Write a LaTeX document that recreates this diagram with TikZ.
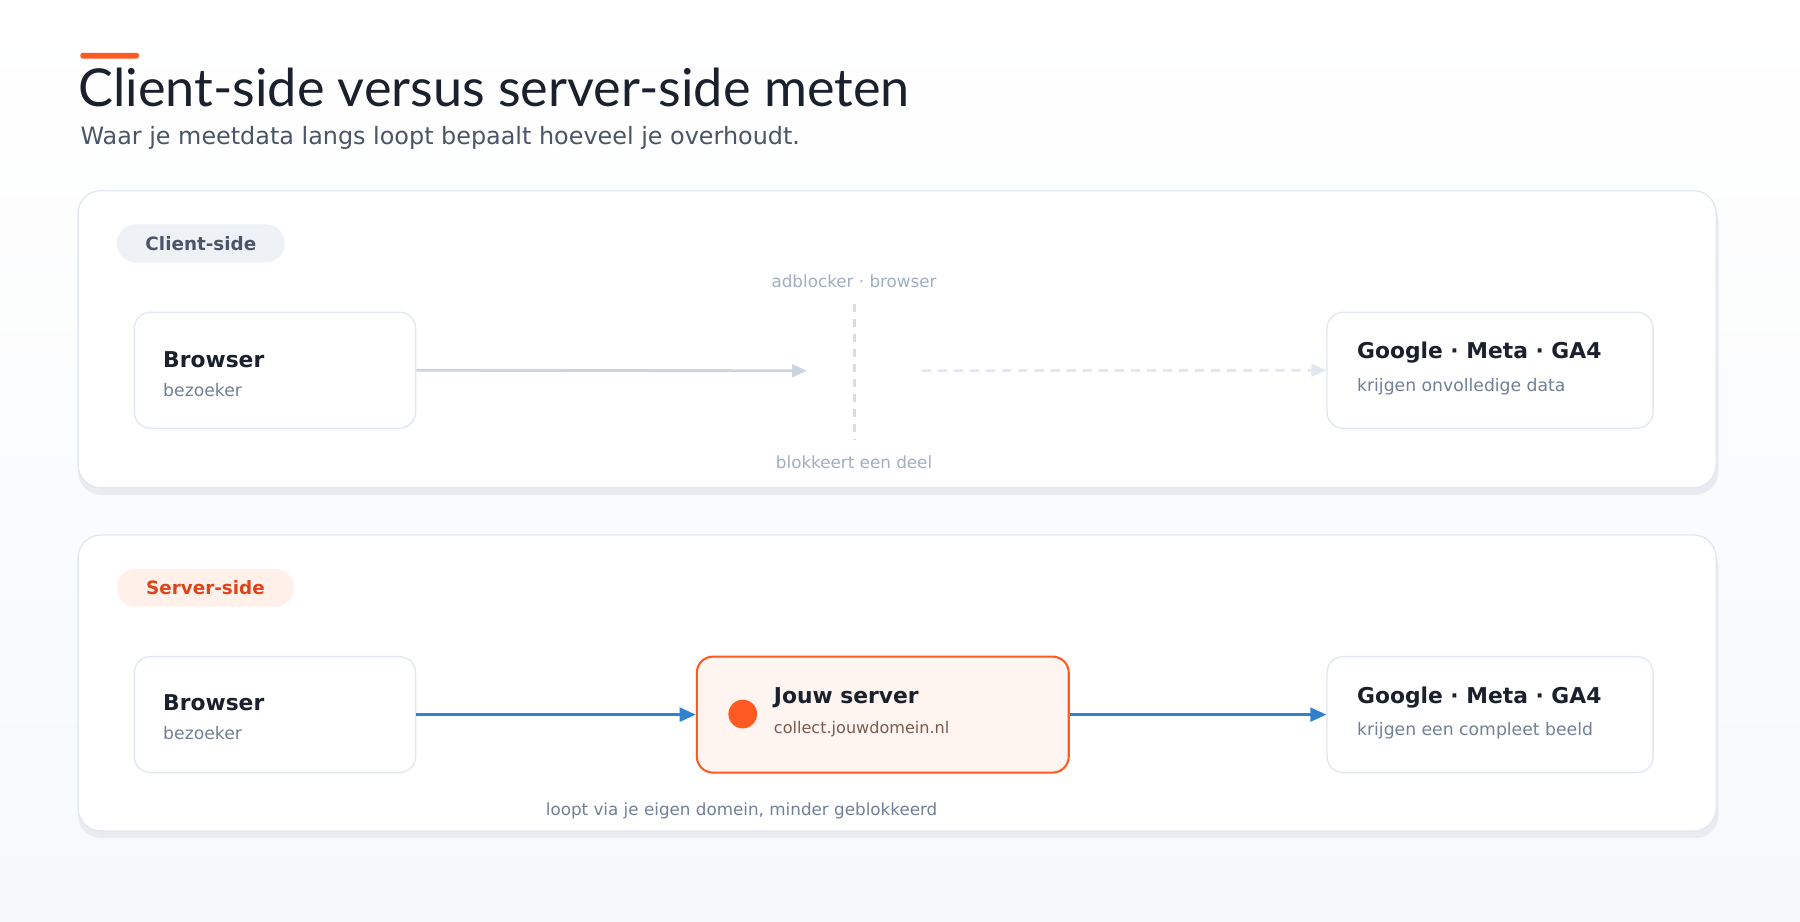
\documentclass[tikz,border=0pt]{standalone}
\usepackage{fontspec}
\setmainfont{DejaVu Sans}
\newfontfamily\titlefont{Lato}
\usetikzlibrary{arrows.meta}
\definecolor{bord}{HTML}{E2E8F0}
\definecolor{shad}{HTML}{E8ECF1}
\definecolor{ink}{HTML}{1A202C}
\definecolor{muted}{HTML}{718096}
\definecolor{faint}{HTML}{A0AEC0}
\definecolor{greyln}{HTML}{CBD5E0}
\definecolor{orng}{HTML}{FF5A24}
\definecolor{blu}{HTML}{3182CE}
\definecolor{slate}{HTML}{4A5568}
\definecolor{bgbot}{HTML}{F6F8FA}
\begin{document}
\begin{tikzpicture}[x=1pt,y=-1pt,
  card/.style={draw=bord,line width=1.2pt,fill=white,rounded corners=20pt},
  box/.style={draw=bord,line width=1.2pt,fill=white,rounded corners=14pt,minimum width=245pt,minimum height=101pt,inner sep=0pt},
  ttl/.style={anchor=base west,font=\bfseries\fontsize{19}{22}\selectfont,text=ink,inner sep=0pt},
  sub/.style={anchor=base west,font=\fontsize{15}{18}\selectfont,text=muted,inner sep=0pt},
  lbl/.style={font=\fontsize{14.6}{17}\selectfont,inner sep=0pt},
  pill/.style={rounded corners=16pt,minimum height=33pt,inner sep=0pt,font=\bfseries\fontsize{16}{19}\selectfont},
  arr/.style={line width=3pt,-{Triangle[length=14pt,width=12pt]}}]
\shade[top color=white,bottom color=bgbot] (0,0) rectangle (1568,803);
\useasboundingbox (0,0) rectangle (1568,803);
% header
\fill[orng,rounded corners=2pt] (70,46) rectangle (121,51);
\node[anchor=base west,inner sep=0pt,font=\titlefont\fontsize{45.5}{50}\selectfont,text=ink] (title) at (68,93) {Client-side versus server-side meten};
\node[anchor=base west,inner sep=0pt,font=\fontsize{20.8}{24}\selectfont,text=slate] (subt) at (70,126) {Waar je meetdata langs loopt bepaalt hoeveel je overhoudt.};
% cards
\fill[shad,rounded corners=20pt] (68,172) rectangle (1497,431);
\draw[card] (68,166) rectangle (1495,425);
\fill[shad,rounded corners=20pt] (68,472) rectangle (1497,730);
\draw[card] (68,466) rectangle (1495,724);
% pills
\node[pill,fill={rgb,255:red,238;green,242;blue,247},text=slate,minimum width=146pt] (pc) at (175,212) {Client-side};
\node[pill,fill={rgb,255:red,255;green,240;blue,234},text={rgb,255:red,217;green,70;blue,27},minimum width=154pt] (ps) at (179,512) {Server-side};
% client row
\node[box] (b1) at (239.5,322.5) {};
\node[ttl] (b1t) at (142,320) {Browser};
\node[sub] (b1s) at (142,345) {bezoeker};
\node[box,minimum width=284pt] (g1) at (1298,322.5) {};
\node[ttl] (g1t) at (1182,312) {Google · Meta · GA4};
\node[sub] (g1s) at (1182,341) {krijgen onvolledige data};
\coordinate (blk) at (703,323);
\coordinate (blkout) at (803,323);
\draw[greyln,line width=2.5pt,-{Triangle[length=13pt,width=11pt]}] (b1.east) -- (blk);
\draw[bord,line width=2.5pt,dash pattern=on 8pt off 6pt,-{Triangle[length=13pt,width=11pt]}] (blkout) -- (g1.west);
\coordinate (vt) at (744,265);
\coordinate (vb) at (744,383);
\draw[greyln!80!white,line width=2.5pt,dash pattern=on 7pt off 6pt] (vt) -- (vb);
\node[lbl,text=faint] (adb) at (744,245) {adblocker · browser};
\node[lbl,text=faint] (blkt) at (744,403) {blokkeert een deel};
% server row
\node[box] (b2) at (239.5,622.5) {};
\node[ttl] (b2t) at (142,619) {Browser};
\node[sub] (b2s) at (142,644) {bezoeker};
\node[box,draw=orng,line width=1.8pt,fill={rgb,255:red,255;green,245;blue,240},minimum width=324pt] (srv) at (769,622.5) {};
\fill[orng] (647,622) circle (12.5pt);
\node[ttl] (srvt) at (674,613) {Jouw server};
\node[sub,text={rgb,255:red,122;green,90;blue,80},font=\fontsize{14}{17}\selectfont] (srvs) at (674,639) {collect.jouwdomein.nl};
\node[box,minimum width=284pt] (g2) at (1298,622.5) {};
\node[ttl] (g2t) at (1182,613) {Google · Meta · GA4};
\node[sub] (g2s) at (1182,641) {krijgen een compleet beeld};
\draw[arr,blu,line width=2.5pt] (b2.east) -- (srv.west);
\draw[arr,blu,line width=2.5pt] (srv.east) -- (g2.west);
\node[lbl,text=muted] (via) at (646,706) {loopt via je eigen domein, minder geblokkeerd};
\end{tikzpicture}
\end{document}
